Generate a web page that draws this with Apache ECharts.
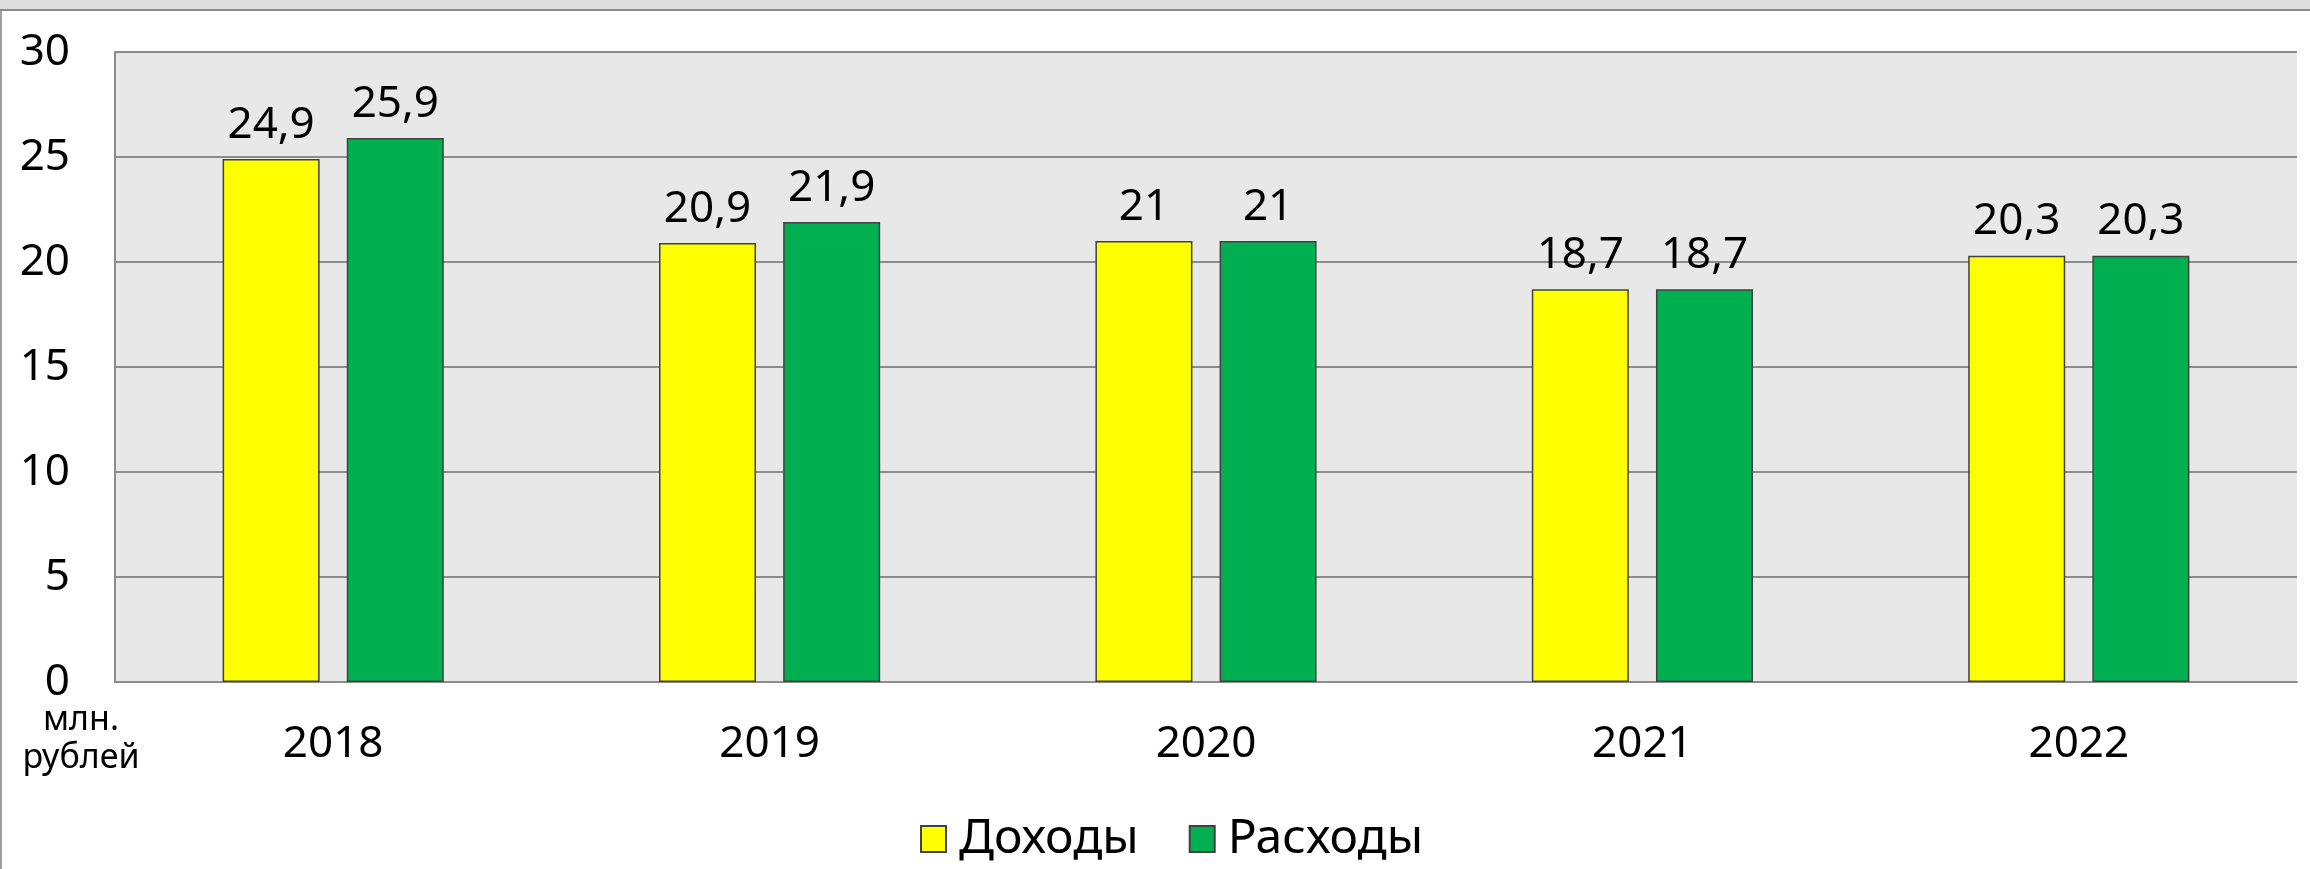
<!DOCTYPE html>
<html>
<head>
<meta charset="utf-8">
<style>
  html, body { margin: 0; padding: 0; background: #fff; }
  #frame {
    position: absolute; left: 0; top: 0; width: 2310px; height: 869px;
    box-sizing: border-box; border-left: 2px solid #a0a0a0;
  }
  #strip {
    position: absolute; left: 0; top: 0; width: 2310px; height: 9px;
    background: #dcdcdc; border-bottom: 2px solid #8c8c8c;
  }
  #chart { position: absolute; left: 0; top: 0; width: 2310px; height: 869px; }
</style>
<script src="https://cdn.jsdelivr.net/npm/echarts@6/dist/echarts.min.js"></script>
</head>
<body>
<div id="chart"></div>
<div id="frame"></div>
<div id="strip"></div>
<script>
// данные
var years = ["2018", "2019", "2020", "2021", "2022"];
var income = [24.9, 20.9, 21, 18.7, 20.3];   // Доходы
var expense = [25.9, 21.9, 21, 18.7, 20.3];  // Расходы
var FONT = "Noto Sans";

var myChart = echarts.init(document.getElementById("chart"));

// 24.9 -> 24,9
function comma(p) {
  return String(p.value).replace(".", ",");
}

myChart.setOption({
  animation: false,
  textStyle: { fontFamily: FONT },
  grid: {
    left: 115, right: 13, top: 52, bottom: 187,
    show: true, backgroundColor: "#e8e8e8", borderWidth: 0
  },
  legend: {
    left: 915, top: 810,
    itemWidth: 25, itemHeight: 26, itemGap: 50,
    icon: "rect",
    textStyle: { fontSize: 48, color: "#000", fontFamily: FONT, padding: [0, 0, 0, 8] },
    data: ["Доходы", "Расходы"]
  },
  xAxis: {
    type: "category",
    data: years,
    axisLine: { lineStyle: { color: "#8c8c8c", width: 2 } },
    axisTick: { show: false },
    axisLabel: { fontSize: 44, color: "#000", margin: 40, fontFamily: FONT }
  },
  yAxis: {
    type: "value",
    min: 0, max: 30, interval: 5,
    axisLine: { show: true, lineStyle: { color: "#8c8c8c", width: 2 } },
    axisTick: { show: false },
    splitLine: { lineStyle: { color: "#8c8c8c", width: 2 } },
    axisLabel: { fontSize: 44, color: "#000", margin: 45, fontFamily: FONT }
  },
  graphic: [
    {
      type: "text",
      x: 81, y: 701,
      style: {
        text: "млн.\nрублей",
        align: "center",
        verticalAlign: "top",
        fontSize: 34, lineHeight: 38,
        fontFamily: FONT, fill: "#000"
      }
    }
  ],
  series: [
    {
      name: "Доходы",
      type: "bar",
      data: income,
      barWidth: 97,
      barGap: "28%",
      itemStyle: { color: "#ffff00", borderColor: "#404040", borderWidth: 1.5 },
      label: { show: true, position: "top", distance: 12, fontSize: 44, color: "#000", formatter: comma }
    },
    {
      name: "Расходы",
      type: "bar",
      data: expense,
      barWidth: 97,
      barGap: "28%",
      itemStyle: { color: "#00b050", borderColor: "#404040", borderWidth: 1.5 },
      label: { show: true, position: "top", distance: 12, fontSize: 44, color: "#000", formatter: comma }
    }
  ]
});

window.addEventListener("resize", function () {
  myChart.resize();
});
</script>
</body>
</html>
